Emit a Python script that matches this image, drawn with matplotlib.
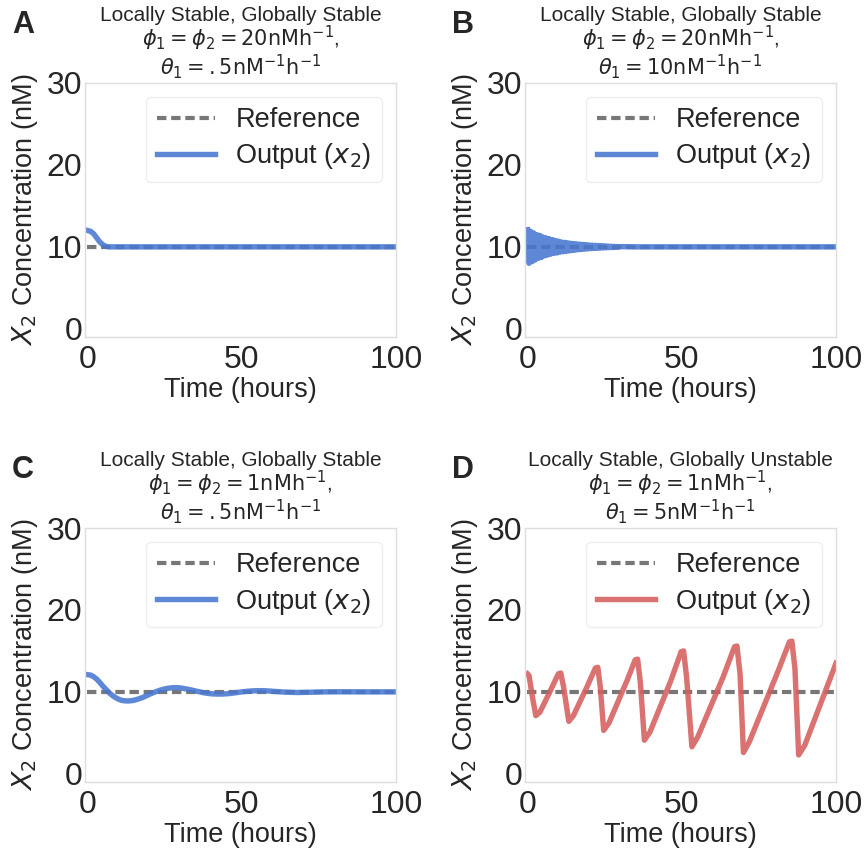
import numpy as np
import matplotlib
matplotlib.use("Agg")
import matplotlib.pyplot as plt

plt.rcParams['font.family'] = ['Liberation Sans', 'DejaVu Sans']
plt.rcParams['mathtext.fontset'] = 'dejavusans'

# ---------------- data ----------------
reference_level = 10.0

t_a = [0, 1, 2, 3, 4, 5, 6, 7, 8, 100]
x_a = [12.0, 11.9, 11.6, 11.1, 10.6, 10.25, 10.06, 10.0, 10.0, 10.0]

t_b = [0, 0.5, 1, 1.5, 2, 2.5, 3, 3.5, 4, 4.5, 5, 5.5, 6, 6.5, 7, 7.5, 8, 8.5,
       9, 9.5, 10, 10.5, 11, 11.5, 12, 12.5, 13, 13.5, 14, 14.5, 15, 15.5, 16,
       16.5, 17, 17.5, 18, 18.5, 19, 19.5, 20, 20.5, 21, 21.5, 22, 22.5, 23,
       23.5, 24, 24.5, 25, 25.5, 26, 26.5, 27, 27.5, 28, 28.5, 29, 29.5, 30,
       35, 100]
x_b = [12.1, 8.0, 11.9, 8.2, 11.7, 8.4, 11.5, 8.6, 11.4, 8.7, 11.2, 8.9, 11.1,
       9.0, 11.0, 9.1, 10.9, 9.2, 10.8, 9.25, 10.7, 9.35, 10.6, 9.4, 10.55,
       9.45, 10.5, 9.5, 10.45, 9.55, 10.4, 9.6, 10.37, 9.65, 10.33, 9.68, 10.3,
       9.72, 10.27, 9.75, 10.24, 9.78, 10.21, 9.8, 10.19, 9.82, 10.17, 9.84,
       10.15, 9.86, 10.13, 9.88, 10.11, 9.9, 10.09, 9.92, 10.07, 9.94, 10.05,
       9.96, 10.03, 10.0, 10.0]

t_c = [0, 1, 2, 3, 4, 5, 6, 7, 8, 9, 10, 11, 12, 13, 14, 15, 16, 18, 20, 22,
       24, 26, 28, 30, 32, 34, 36, 38, 40, 42, 44, 46, 48, 50, 52, 54, 56, 58,
       60, 64, 68, 72, 76, 80, 90, 100]
x_c = [12.1, 12.05, 11.85, 11.55, 11.15, 10.7, 10.3, 9.9, 9.58, 9.32, 9.12,
       8.97, 8.91, 8.89, 8.91, 8.97, 9.07, 9.33, 9.69, 10.0, 10.26, 10.44, 10.52,
       10.49, 10.36, 10.2, 10.03, 9.87, 9.77, 9.73, 9.74, 9.79, 9.89, 10.0,
       10.08, 10.13, 10.15, 10.13, 10.07, 9.97, 9.92, 9.95, 9.99, 10.01, 10.0,
       10.0]

t_d = [0, 0.5, 1.6, 2.7, 4.0, 7.5, 10.0, 10.8, 11.7, 13.4, 14.9, 19.4, 22.0,
       22.8, 23.6, 24.7, 26.4, 32.4, 34.9, 35.7, 36.6, 37.9, 39.7, 46.4, 49.8,
       50.6, 51.6, 53.3, 55.2, 63.4, 67.1, 67.9, 68.9, 70.0, 71.9, 81.4, 84.9,
       85.7, 86.7, 87.9, 89.9, 100]
x_d = [12.2, 12.0, 9.4, 7.1, 7.5, 10.2, 12.2, 12.3, 10.6, 6.4, 7.1, 10.7, 12.9,
       13.0, 10.6, 5.3, 6.2, 11.5, 13.9, 14.0, 11.1, 4.1, 5.1, 11.3, 14.9,
       15.0, 11.7, 3.3, 4.5, 11.8, 15.5, 15.6, 12.2, 2.6, 3.9, 12.7, 16.1, 16.2,
       12.8, 2.3, 3.5, 13.5]

letters = ['A', 'B', 'C', 'D']
titles = [
    "Locally Stable, Globally Stable\n"
    r"$\phi_1 = \phi_2 = 20 \mathrm{nMh}^{-1}$," "\n"
    r"$\theta_1 = .5 \mathrm{nM}^{-1}\mathrm{h}^{-1}$",
    "Locally Stable, Globally Stable\n"
    r"$\phi_1 = \phi_2 = 20 \mathrm{nMh}^{-1}$," "\n"
    r"$\theta_1 = 10 \mathrm{nM}^{-1}\mathrm{h}^{-1}$",
    "Locally Stable, Globally Stable\n"
    r"$\phi_1 = \phi_2 = 1 \mathrm{nMh}^{-1}$," "\n"
    r"$\theta_1 = .5 \mathrm{nM}^{-1}\mathrm{h}^{-1}$",
    "Locally Stable, Globally Unstable\n"
    r"$\phi_1 = \phi_2 = 1 \mathrm{nMh}^{-1}$," "\n"
    r"$\theta_1 = 5 \mathrm{nM}^{-1}\mathrm{h}^{-1}$",
]
series = [(t_a, x_a), (t_b, x_b), (t_c, x_c), (t_d, x_d)]
colors = ['#4878d0', '#4878d0', '#4878d0', '#d65f5f']

xticks = [0, 50, 100]
yticks = [0, 10, 20, 30]

# ---------------- figure ----------------
fig = plt.figure(figsize=(8.68, 8.52), dpi=100)
W, H = 868, 852
boxes = [(85, 83), (525, 83), (85, 528), (525, 528)]
aw, ah = 311, 254

for i, (bx, by) in enumerate(boxes):
    ax = fig.add_axes([bx / W, 1 - (by + ah) / H, aw / W, ah / H])
    t, x = series[i]
    ax.plot([0, 100], [reference_level, reference_level], color='#777777',
            lw=3.0, linestyle=(0, (2.25, 1.15)), label='Reference')
    ax.plot(t, x, color=colors[i], lw=3.9, alpha=0.88,
            label=r'Output ($x_2$)', solid_joinstyle='round')
    ax.set_xlim(-0.8, 100)
    ax.set_ylim(-1, 30)
    ax.set_xticks(xticks)
    ax.set_yticks(yticks)
    ax.tick_params(axis='x', length=0, labelsize=23, pad=6, colors='#262626')
    ax.tick_params(axis='y', length=0, labelsize=23, pad=2, colors='#262626')
    for sp in ax.spines.values():
        sp.set_color('#dddddd')
        sp.set_linewidth(1.0)
    ax.set_xlabel('Time (hours)', fontsize=19.5, labelpad=1, color='#262626')
    ax.set_ylabel(r'$X_2$ Concentration (nM)', fontsize=19.5, labelpad=5,
                  color='#262626')
    ax.set_title(titles[i], fontsize=15, pad=6, color='#262626',
                 linespacing=0.95)
    leg = ax.legend(loc='upper right', fontsize=19.5, handlelength=2.15,
                    handletextpad=0.75, borderpad=0.4, labelspacing=0.3,
                    fancybox=True, framealpha=1.0)
    leg.get_frame().set_edgecolor('#eeeeee')
    for txt in leg.get_texts():
        txt.set_color('#262626')
    fig.text((bx - 73) / W, 1 - (by - 73) / H, letters[i], fontsize=22,
             fontweight='bold', color='#262626', ha='left', va='top')

fig.savefig('out.png', dpi=100)
